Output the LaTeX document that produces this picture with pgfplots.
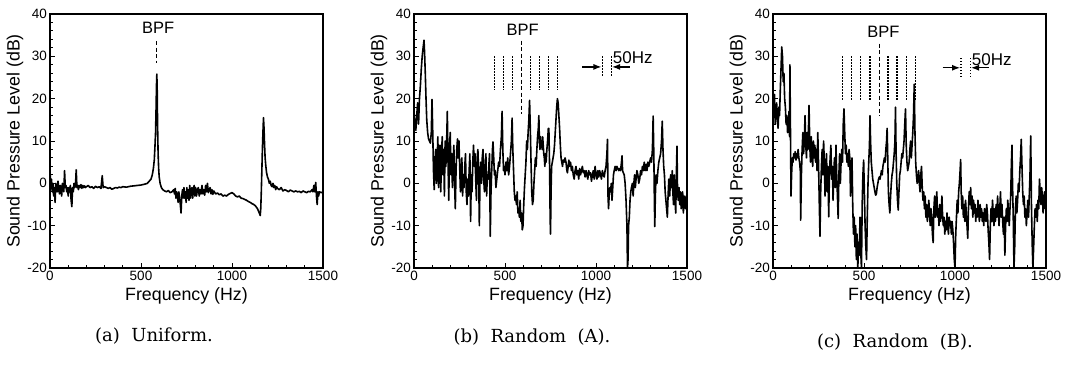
\documentclass[border=0pt]{standalone}
\usepackage{fontspec}
\setmainfont{Liberation Sans}
\newfontfamily\capfont{DejaVu Serif}
\usepackage{pgfplots}
\usepackage{pgfplotstable}
\usetikzlibrary{arrows.meta}
\pgfplotsset{compat=1.18}

\pgfplotstableread{
f db
0 3
4 -1
8 1
12 -2
16 0
20 -3
24 -1
28 -4.5
32 0
36 -1
40 -2
44 0.5
48 -1
52 -2.5
56 -0.5
60 -1.5
64 -3
68 0
72 -1
76 -2
80 3
84 -1
88 -0.5
92 -2
96 -1
100 -3
104 -1
108 -2
112 -0.5
116 -4
120 -5.5
124 -1
128 -2
132 0
136 -1
140 -0.5
144 3.2
148 -1
152 -0.5
156 -1.5
160 -0.5
165 -1
170 -0.3
175 -1.2
180 -0.5
185 -1
190 -0.6
195 -1
200 -0.8
210 -0.5
220 -1
230 -0.8
240 -1.2
250 -0.7
260 -1
270 -0.8
280 -1.2
287 1.8
292 -1
300 -0.8
310 -1
320 -1.2
330 -1
340 -1.4
350 -1.2
360 -1
370 -1.1
380 -0.9
390 -1
400 -0.8
420 -0.9
440 -0.7
460 -0.6
480 -0.5
500 -0.4
520 -0.2
535 0
545 0.5
555 1
562 2
568 3.5
573 5.5
577 9
580 12
583 18
585 23
587 25.8
589 22
591 14
594 7
597 3.5
600 1.5
605 0
612 -1
620 -1.5
630 -1.8
640 -2
650 -1.7
660 -2.2
670 -2
680 -1.5
684 -2.5
688 -1.2
692 -3.5
696 -2
700 -3
704 -4.5
708 -2
712 -3.5
716 -5
720 -7
724 -3
728 -1.5
732 -3.5
736 -1
740 -3.5
744 -2
748 -4.5
752 -1
756 -3.5
760 -1.5
764 -4
768 -0.5
772 -3.5
776 -1.5
780 -1
784 -3.5
788 -1.5
792 -0.5
796 -3
800 -1
805 -3
810 -1.5
815 -1
820 -3
825 -1.5
830 -2.5
835 -0.5
840 -2.5
845 -1.5
850 -2.8
855 -0.5
860 -2
865 0
870 -2.2
875 -1.5
880 -1
885 -2.5
890 -1.5
895 -2.6
900 -1.8
910 -2.5
920 -2.3
930 -2.7
940 -2.5
950 -3
960 -2.8
970 -3
980 -2.6
990 -2.4
1000 -2.2
1010 -2.5
1020 -3
1030 -3.2
1040 -3
1050 -3.5
1060 -3.6
1070 -3.8
1080 -4
1090 -4.3
1100 -4.5
1110 -4.8
1120 -5
1130 -5.4
1140 -6
1145 -6.5
1150 -7
1155 -7.6
1158 -6
1161 -2
1164 3
1167 8
1170 12
1173 15.5
1176 13
1179 9
1182 6
1186 4
1190 2.5
1195 1.5
1200 1
1205 0
1210 0.5
1215 -0.5
1220 -0.8
1225 0
1230 -1
1235 -0.5
1240 -1.5
1245 -0.8
1250 -1.2
1260 -1.5
1270 -1
1280 -1.8
1290 -1.5
1300 -1.7
1310 -2
1320 -1.6
1330 -1.8
1340 -2
1350 -1.8
1360 -2
1370 -1.9
1380 -2.2
1390 -1.8
1400 -2
1410 -2.2
1420 -1.9
1430 -2
1440 -1.5
1445 -2
1450 -0.5
1455 -2
1460 0.2
1464 -3
1468 -5
1472 -2
1476 -3
1480 -2
1490 -2.2
1500 -2
}\dataUniform

\pgfplotstableread{
f db
0 17
5 14
10 12.5
15 16
20 19
25 14
30 20
35 23
40 27
45 30
50 32
55 33.8
58 31
62 26
66 20
70 15
75 12
80 10.5
85 10
90 9.5
95 12
99 19.8
103 12
107 3
111 -1.5
115 5
119 8
123 0
127 5
131 11
135 -1
139 4
143 9
147 -2
151 6
155 11
159 2
163 8
167 -3
171 10
175 4
179 9
183 17
187 5
191 -4
195 8
199 12
203 2
207 7
211 -1
215 5
219 9
223 0
227 -6
231 3
235 8
239 10.5
243 6
247 10
251 4
255 -2
259 3
263 6
267 -3
271 2
275 -1
279 4
283 7
287 -2
291 -5
295 1
299 -3
303 3
307 7
311 -9
315 2
319 -2
323 5
327 9
331 4
335 7
339 1
343 -4
347 6
351 8
355 3
359 -10
363 2
367 5
371 0
375 6
379 8
383 1
387 -2
391 4
395 7
399 -3
403 2
407 1
411 4
415 7
419 -12.5
423 -2
427 3
431 8
434 9.8
438 6
442 2
446 3
450 -1
455 1
460 3
465 5
470 4
475 8
480 11
484 17
488 8
492 3
496 4
500 2
505 5
510 3
515 6
520 2
525 4
530 7
535 10
539 15.4
543 8
547 3
551 -2
555 -4
559 -3
563 -5
567 -2
571 -7
575 -6
579 -8
583 -4
587 -9
591 -7
595 -11
599 -10
603 -5
607 -1
611 2
615 5
619 10
623 8
627 12
631 15
635 19.6
639 13
643 5
647 -2
651 -5
655 -4
659 0
663 3
667 6
671 4
675 8
679 11
683 13
686 16
689 10
692 8
695 11
698 9
701 10
704 8
707 11
710 9
713 7
716 6
719 4
722 7
726 5
730 8
734 10
738 13
741 13
745 4
748 -8
750 -12
753 -2
756 4
760 5
764 6
768 7
772 9
776 12
780 15
784 18
788 20
792 19
796 16
800 13
804 9
808 6
812 5
816 4
820 5.5
825 5
830 6
835 5
840 3
843 2.5
847 4
851 5.5
855 4
860 5
865 3
870 4
875 2
880 1
885 3
890 4
895 2
900 3
905 1
910 3.5
915 2
920 3
925 4
930 2.5
935 3
940 1.5
945 3
950 2
955 1
960 3
965 2
970 2.5
975 0.5
980 2
985 3
990 1
995 4
1000 2
1005 1
1010 3
1015 1.5
1020 3
1025 2
1030 1
1035 3
1040 2
1045 1.5
1050 3
1055 4
1060 7
1063 10.4
1066 -3
1069 -6
1072 -3
1076 -1
1080 -2
1084 0
1088 -4
1092 -1
1096 2
1100 3
1105 4
1110 3
1115 4
1120 3.5
1125 3
1130 3.5
1135 3
1140 5
1143 6.5
1146 3
1150 2.5
1155 2
1160 0
1165 -4
1170 -10
1173 -20
1176 -18
1179 -10
1183 -8
1187 -4
1191 -2
1195 -1
1200 0
1204 -3
1208 0
1212 2
1216 -1
1220 1
1225 3
1230 2
1235 0
1240 1
1245 3
1250 2
1255 4
1260 3
1265 5
1270 3
1275 4.5
1280 3
1285 5
1290 4
1295 5
1300 6
1305 5
1310 8
1314 15.9
1318 6
1321 -5
1323 -10.2
1326 -3
1330 2
1335 0
1340 3
1345 5
1350 6
1355 7
1360 10
1364 14.7
1368 8
1372 4
1376 2
1380 -2
1384 -4
1388 -6
1392 -8
1396 -3
1400 1
1405 -3
1410 2
1415 -1
1419 3
1422 -2
1426 -5
1430 2
1434 -4
1438 -7
1442 3
1445 8.8
1448 -2
1452 -4
1456 -1
1460 -5
1464 -2
1468 -6
1472 -3
1476 -2
1480 -7
1484 -3
1488 -4
1492 -6
1496 -3
1500 -5
}\dataRandA

\pgfplotstableread{
f db
0 20
4 16
8 21
12 14
16 17
20 19
24 15
28 13
32 18
36 16
40 22
44 27
48 32.2
52 30
56 24
60 26
64 20
68 18
72 14
76 16
80 12
84 13
88 17
91 11
93 28
96 12
99 -3
102 2
106 6
110 5
114 7
118 6
122 7.5
126 5.5
130 7
134 6
138 8
142 6
146 5
150 3
152 -8.7
156 2
160 8
164 12
168 7
172 10
176 16
180 9
184 6
188 12
192 8
196 15
198 18.4
202 9
206 5
210 11
214 7
218 4
222 10
226 6
230 9
234 5
238 8
242 3
246 12
250 5
254 -4
258 -12.5
262 -2
266 4
270 8
274 2
278 10
282 5
286 -3
290 3
294 7
298 -2
302 4
306 -7.9
310 2
314 6
318 9
322 1
326 4
330 -4
334 3
338 6
342 -1
346 9
350 2
354 -3
358 -8.3
362 2
366 7
370 0
374 5
378 8
382 5
386 14
390 17.6
394 12
398 7
402 9
406 5
410 7
414 4
418 8
422 6
426 -3
430 4
434 6
438 -5
442 -12
446 -8
450 -15
454 -10
458 -18
462 -12
466 -20
470 -14
474 -17
478 -8
482 -16
486 -20
490 -5
494 2
498 5.5
502 -2
506 -10
510 -15
514 -18
518 -8
522 0
526 5
530 9
533 16
536 10
540 5
544 3
548 1
552 0
556 -1
560 -2
564 -2.8
568 -2.5
572 -1
576 0
580 1
584 1.5
588 1
592 2
596 3
600 2
604 4
608 5
612 6
616 5
620 8
624 10
627 13
630 7
634 -2
638 -5
642 -7
646 -3
650 0
654 2
658 3
662 5
666 7
670 10
673 18
676 8
680 0
684 -4
688 -6.3
692 -2
696 2
700 3
704 5
708 7
712 6
716 8
720 10
724 14
728 17.6
732 9
736 5
740 3
744 4
748 5
752 8
756 10
760 6
764 9
768 12
772 16
776 23.4
780 12
784 5
788 2
792 0
796 1
800 3
804 0
808 -2
812 2
816 4
820 -1
824 -4
828 -2
832 -6
836 -3
840 -8
844 -5
848 -9
852 -7
856 -4
860 -7
864 -10
868 -6
872 -8
876 -12
880 -14
884 -6
888 -3
892 -8
896 -5
900 -2
904 -8
908 -6
912 -10
916 -5
920 -9
924 -7
928 -3
932 -8
936 -10
940 -8
944 -12
948 -9
952 -11
956 -7
960 -10
964 -12
968 -8
972 -10
976 -9
980 -12
984 -9
988 -11
992 -14
996 -18
1000 -20
1004 -12
1008 -8
1012 -4
1016 -7
1020 -2
1024 0
1028 3
1031 5.6
1034 -2
1038 -6
1042 -3
1046 -8
1050 -5
1054 -9
1058 -4
1062 -7
1066 -10
1070 -13
1074 -6
1078 -2
1082 -5
1086 -1
1090 -6
1094 -3
1098 -8
1102 -4
1106 -7
1110 -5
1114 -9
1118 -6
1122 -8
1126 -4
1130 -7
1134 -9
1138 -5
1142 -8
1146 -6
1150 -9
1154 -7
1158 -10
1162 -6
1166 -8
1170 -9
1174 -5
1178 -7
1182 -11
1186 -14
1190 -18
1194 -10
1198 -6
1202 -9
1206 -4
1210 -7
1214 -10
1218 -6
1222 -9
1226 -5
1230 -8
1234 -3
1238 -7
1242 -10
1246 -6
1250 -2
1254 -8
1258 -5
1262 -9
1266 -12
1270 -8
1274 -17
1278 -10
1282 -6
1286 -9
1290 -4
1294 -7
1298 -10
1302 -6
1306 -3
1310 5
1313 9
1316 0
1320 -8
1324 -20
1328 -15
1332 -6
1336 -3
1340 -7
1344 -4
1348 0
1352 -2
1356 3
1360 6
1364 10.4
1368 4
1372 -2
1376 -5
1380 -3
1384 -8
1388 -6
1392 -10
1396 -7
1400 -4
1404 -8
1408 -3
1412 2
1416 11.2
1420 -5
1424 -14
1428 -20
1432 -15
1436 -10
1440 -6
1444 -8
1448 -5
1452 -9
1456 -4
1460 -6
1464 1
1468 -2
1472 -5
1476 -1
1480 -3
1484 -7
1488 -4
1492 -2
1496 -6
1500 -3
}\dataRandB

\pgfplotsset{
  spl/.style={
    scale only axis, width=273pt, height=254pt,
    xmin=0, xmax=1500, ymin=-20, ymax=40,
    xtick={0,500,1000,1500}, xticklabels={0,500,1000,1500},
    ytick={-20,-10,0,10,20,30,40}, yticklabels={-20,-10,0,10,20,30,40},
    minor x tick num=4, minor y tick num=4,
    tick pos=left, tick align=inside,
    major tick length=5pt, minor tick length=3pt,
    axis line style={line width=1.2pt},
    every tick/.style={line width=0.9pt, black},
    tick label style={font=\fontsize{13.5}{13.5}\selectfont, inner sep=0pt},
    xticklabel style={anchor=north, yshift=-3pt},
    yticklabel style={anchor=east, xshift=-3pt},
    xlabel={Frequency (Hz)}, ylabel={Sound Pressure Level (dB)},
    label style={font=\fontsize{17.8}{17.8}\selectfont, inner sep=0pt},
    xlabel style={at={(axis description cs:0.5,-0.110)}, anchor=center},
    ylabel style={at={(axis description cs:-0.128,0.5)}, anchor=center},
    clip=true,
  },
}
\tikzset{
  dataline/.style={black, line width=1.6pt, line join=round},
  bpf/.style={black, line width=1.2pt, dash pattern=on 4pt off 2.5pt},
  harm/.style={black, line width=1.1pt, dash pattern=on 1.3pt off 1.7pt},
  anno/.style={font=\fontsize{16.5}{16.5}\selectfont, inner sep=0pt},
  arr/.style={-{Latex[length=8pt,width=6pt]}, line width=1.2pt},
}

\begin{document}
\begin{tikzpicture}[x=1pt,y=1pt]
\path[use as bounding box] (0,0) rectangle (1065,364);

% (a) Uniform
\begin{axis}[spl, at={(50pt,96pt)}, anchor=south west]
\addplot[dataline, no marks] table[x=f,y=db] {\dataUniform};
\draw[bpf] (axis cs:587,33.6) -- (axis cs:587,28.5);
\node[anno] at (axis cs:594,36.8) {BPF};
\end{axis}

% (b) Random (A)
\begin{axis}[spl, at={(414pt,96pt)}, anchor=south west]
\addplot[dataline, no marks] table[x=f,y=db] {\dataRandA};
\draw[bpf] (axis cs:590,33.7) -- (axis cs:590,16.3);
\draw[harm] (axis cs:440,30) -- (axis cs:440,22);
\draw[harm] (axis cs:490,30) -- (axis cs:490,22);
\draw[harm] (axis cs:540,30) -- (axis cs:540,22);
\draw[harm] (axis cs:640,30) -- (axis cs:640,22);
\draw[harm] (axis cs:690,30) -- (axis cs:690,22);
\draw[harm] (axis cs:740,30) -- (axis cs:740,22);
\draw[harm] (axis cs:790,30) -- (axis cs:790,22);
\node[anno] at (axis cs:597,36.2) {BPF};
\draw[harm] (axis cs:1035,30) -- (axis cs:1035,25.2);
\draw[harm] (axis cs:1083,30) -- (axis cs:1083,25.2);
\draw[arr] (axis cs:925,27.5) -- (axis cs:1030,27.5);
\draw[arr] (axis cs:1185,27.5) -- (axis cs:1088,27.5);
\node[anno, anchor=west, font=\fontsize{17}{17}\selectfont] at (axis cs:1092,29.6) {50Hz};
\end{axis}

% (c) Random (B)
\begin{axis}[spl, at={(773pt,96pt)}, anchor=south west]
\addplot[dataline, no marks] table[x=f,y=db] {\dataRandB};
\draw[bpf] (axis cs:584,33) -- (axis cs:584,16);
\draw[harm] (axis cs:381,30) -- (axis cs:381,19.5);
\draw[harm] (axis cs:432,30) -- (axis cs:432,19.5);
\draw[harm] (axis cs:482,30) -- (axis cs:482,19.5);
\draw[harm] (axis cs:533,30) -- (axis cs:533,19.5);
\draw[harm] (axis cs:632,30) -- (axis cs:632,19.5);
\draw[harm] (axis cs:681,30) -- (axis cs:681,19.5);
\draw[harm] (axis cs:731,30) -- (axis cs:731,19.5);
\draw[harm] (axis cs:782,30) -- (axis cs:782,19.5);
\node[anno] at (axis cs:606,35.8) {BPF};
\draw[harm] (axis cs:1033,29.6) -- (axis cs:1033,25);
\draw[harm] (axis cs:1083,29.6) -- (axis cs:1083,25);
\draw[arr] (axis cs:932,27.3) -- (axis cs:1028,27.3);
\draw[arr] (axis cs:1185,27.3) -- (axis cs:1088,27.3);
\node[anno, anchor=west, font=\fontsize{17}{17}\selectfont] at (axis cs:1092,29.2) {50Hz};
\end{axis}

\node[font=\capfont\fontsize{18}{18}\selectfont] at (154,28) {(a)\ \ Uniform.};
\node[font=\capfont\fontsize{18}{18}\selectfont] at (532,27) {(b)\ \ Random\ \ (A).};
\node[font=\capfont\fontsize{18}{18}\selectfont] at (895,22) {(c)\ \ Random\ \ (B).};
\end{tikzpicture}
\end{document}
